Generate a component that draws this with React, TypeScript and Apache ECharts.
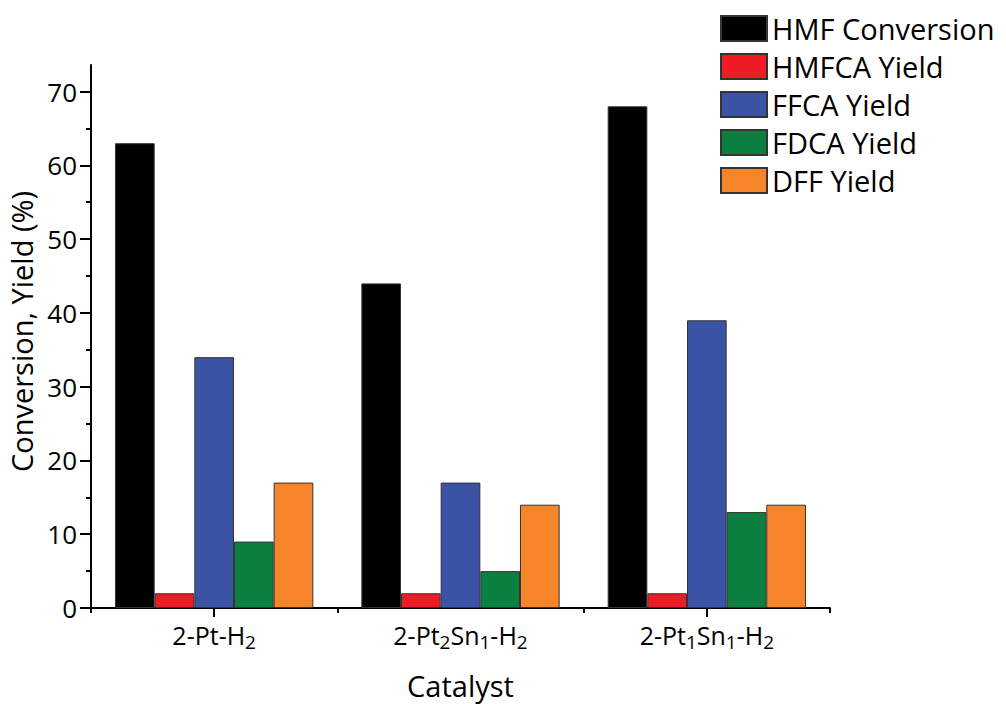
import React, { useEffect, useRef } from "react";
import * as echarts from "echarts";

const categories = [
  "{a|2-Pt-H}{s|2}",
  "{a|2-Pt}{s|2}{a|Sn}{s|1}{a|-H}{s|2}",
  "{a|2-Pt}{s|1}{a|Sn}{s|1}{a|-H}{s|2}",
];
const seriesNames = ["HMF Conversion", "HMFCA Yield", "FFCA Yield", "FDCA Yield", "DFF Yield"];
const hmfConversion = [63, 44, 68];
const hmfcaYield = [2, 2, 2];
const ffcaYield = [34, 17, 39];
const fdcaYield = [9, 5, 13];
const dffYield = [17, 14, 14];
const majorTicks = [0, 10, 20, 30, 40, 50, 60, 70];
const minorTicks = [5, 15, 25, 35, 45, 55, 65];
const yMax = 73.6;

const colors = ["#000000", "#ED1C24", "#3A53A4", "#0C8040", "#F7862A"];
const FONT = "Open Sans";

export default function App() {
  const ref = useRef<HTMLDivElement>(null);
  useEffect(() => {
    document.body.style.margin = "0";
    const chart = echarts.init(ref.current!, null, { renderer: "svg" });
    const values = [hmfConversion, hmfcaYield, ffcaYield, fdcaYield, dffYield];
    chart.setOption({
      animation: false,
      backgroundColor: "#ffffff",
      textStyle: { fontFamily: FONT, color: "#000" },
      grid: { left: 91, right: 176, top: 65, bottom: 96, containLabel: false, outerBoundsMode: "none" },
      legend: {
        orient: "vertical",
        left: 720,
        top: 14,
        padding: 0,
        itemWidth: 46,
        itemHeight: 25,
        itemGap: 9,
        icon: "rect",
        textStyle: { fontFamily: FONT, fontSize: 29, lineHeight: 28, color: "#000", padding: [0, 0, 0, 0] },
        data: seriesNames,
      },
      xAxis: [
        {
          type: "category",
          data: categories,
          position: "bottom",
          name: "Catalyst",
          nameLocation: "middle",
          nameGap: 63,
          nameTextStyle: { fontFamily: FONT, fontSize: 29, color: "#000" },
          axisLine: { show: true, lineStyle: { color: "#000", width: 2 } },
          axisTick: { show: true, length: 5, lineStyle: { color: "#000", width: 2 } },
          axisLabel: {
            interval: 0,
            margin: 14,
            fontSize: 25,
            fontFamily: FONT,
            color: "#000",
            rich: {
              a: { fontFamily: FONT, fontSize: 25, height: 25, lineHeight: 25, verticalAlign: "top", color: "#000" },
              s: { fontFamily: FONT, fontSize: 19, height: 19, lineHeight: 29, verticalAlign: "bottom", color: "#000" },
            },
          },
          splitLine: { show: false },
        },
        {
          type: "category",
          data: categories,
          position: "bottom",
          axisLine: { show: false },
          axisTick: { show: true, alignWithLabel: true, length: 9, lineStyle: { color: "#000", width: 2 } },
          axisLabel: { show: false },
          splitLine: { show: false },
        },
      ],
      yAxis: [
        {
          type: "value",
          min: 0,
          max: yMax,
          interval: 10,
          position: "left",
          name: "Conversion, Yield (%)",
          nameLocation: "middle",
          nameGap: 50,
          nameTextStyle: { fontFamily: FONT, fontSize: 29, color: "#000", padding: [0, 0, 0, 10] },
          axisLine: { show: true, lineStyle: { color: "#000", width: 2 } },
          axisTick: { show: true, length: 11, customValues: majorTicks, lineStyle: { color: "#000", width: 2 } },
          axisLabel: { fontFamily: FONT, fontSize: 26, color: "#000", margin: 14, customValues: majorTicks },
          splitLine: { show: false },
        },
        {
          type: "value",
          min: 0,
          max: yMax,
          interval: 10,
          position: "left",
          axisLine: { show: false },
          axisTick: { show: true, length: 5, customValues: minorTicks, lineStyle: { color: "#000", width: 2 } },
          axisLabel: { show: false },
          splitLine: { show: false },
        },
      ],
      series: seriesNames.map((name, i) => ({
        name,
        type: "bar",
        xAxisIndex: 0,
        yAxisIndex: 0,
        data: values[i],
        barGap: "0%",
        barCategoryGap: "19.5%",
        itemStyle: { color: colors[i], borderColor: "#333333", borderWidth: 1 },
      })),
    });
    return () => chart.dispose();
  }, []);
  return <div ref={ref} style={{ width: 1006, height: 704 }} />;
}
